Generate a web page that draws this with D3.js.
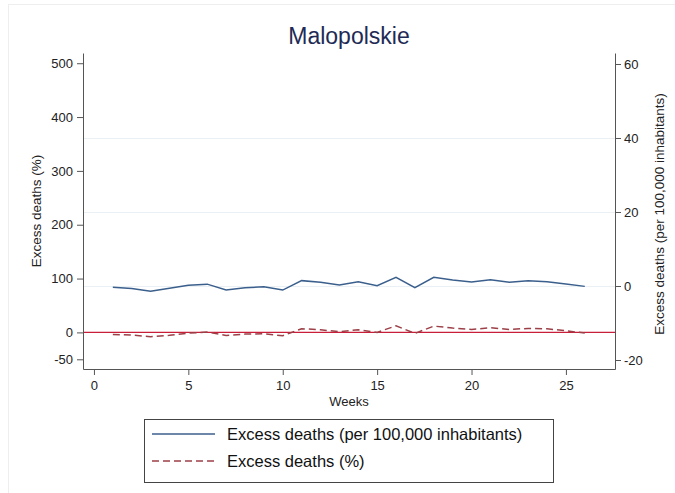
<!DOCTYPE html>
<html>
<head>
<meta charset="utf-8">
<script src="https://cdn.jsdelivr.net/npm/d3@7"></script>
<style>
  html, body { margin: 0; padding: 0; background: #fff; }
  svg { display: block; font-family: "Liberation Sans", Arial, Helvetica, sans-serif; }
</style>
</head>
<body>
<svg id="chart" width="675" height="493"></svg>
<script>
const title = "Malopolskie";
const weeks = [1,2,3,4,5,6,7,8,9,10,11,12,13,14,15,16,17,18,19,20,21,22,23,24,25,26];
const per100k = [-0.35,-0.7,-1.4,-0.6,0.2,0.5,-1.1,-0.45,-0.2,-1.1,1.45,1.0,0.25,1.15,0.1,2.35,-0.45,2.35,1.6,1.1,1.7,1.0,1.45,1.15,0.55,-0.1];
const pct = [-3.7,-5,-8,-5.5,-1.3,0.5,-5.6,-3.2,-2.5,-6.3,6.8,4.9,1.2,4.9,0,12.3,-1.9,11.7,8,5.5,8.6,5.5,7.4,6.8,3,-1.3];
const xTicks = [0,5,10,15,20,25];
const leftTicks = [-50,0,100,200,300,400,500];
const rightTicks = [-20,0,20,40,60];
const gridTicks = [0,20,40];
const seriesNames = ["Excess deaths (per 100,000 inhabitants)", "Excess deaths (%)"];
const xTitle = "Weeks";
const leftTitle = "Excess deaths (%)";
const rightTitle = "Excess deaths (per 100,000 inhabitants)";

const svg = d3.select("#chart");
const L = 83, R = 615, T = 53, B = 369;
const blue = "#3b5f8c", maroon = "#9c3f47", red = "#c81e3a", axisCol = "#555";
const fmt = d => String(d);

// faint outer frame
svg.append("line").attr("x1", 8.5).attr("x2", 8.5).attr("y1", 4).attr("y2", 493).attr("stroke", "#eeeeee");
svg.append("line").attr("x1", 8).attr("x2", 675).attr("y1", 4.5).attr("y2", 4.5).attr("stroke", "#eeeeee");

const x = d3.scaleLinear().domain([-0.58, 27.6]).range([L, R]);
const yL = d3.scaleLinear().domain([-68, 519]).range([B, T]);
const yR = d3.scaleLinear().domain([-22.43, 62.97]).range([B, T]);

// gridlines
svg.append("g").selectAll("line").data(gridTicks).join("line")
  .attr("x1", L).attr("x2", R)
  .attr("y1", d => Math.round(yR(d)) + 0.5).attr("y2", d => Math.round(yR(d)) + 0.5)
  .attr("stroke", "#eaf0f3").attr("stroke-width", 1);

// zero reference line
svg.append("line").attr("x1", L).attr("x2", R)
  .attr("y1", yL(0)).attr("y2", yL(0))
  .attr("stroke", red).attr("stroke-width", 1.3);

// lines
const lineR = d3.line().x((d, i) => x(weeks[i])).y(d => yR(d));
const lineL = d3.line().x((d, i) => x(weeks[i])).y(d => yL(d));
svg.append("path").datum(pct).attr("d", lineL).attr("fill", "none")
  .attr("stroke", maroon).attr("stroke-width", 1.5).attr("stroke-dasharray", "7,4");
svg.append("path").datum(per100k).attr("d", lineR).attr("fill", "none")
  .attr("stroke", blue).attr("stroke-width", 1.5);

// axes
function styleAxis(g) {
  g.selectAll("path").attr("stroke", axisCol);
  g.selectAll("line").attr("stroke", axisCol);
  g.selectAll("text").attr("fill", "#222").style("font-size", "13px")
    .style("font-family", '"Liberation Sans", Arial, Helvetica, sans-serif');
}
const gx = svg.append("g").attr("transform", `translate(0,${B})`)
  .call(d3.axisBottom(x).tickValues(xTicks).tickFormat(fmt).tickSize(6).tickPadding(6).tickSizeOuter(0));
styleAxis(gx);
const gl = svg.append("g").attr("transform", `translate(${L},0)`)
  .call(d3.axisLeft(yL).tickValues(leftTicks).tickFormat(fmt).tickSize(6).tickPadding(4).tickSizeOuter(0));
styleAxis(gl);
const gr = svg.append("g").attr("transform", `translate(${R},0)`)
  .call(d3.axisRight(yR).tickValues(rightTicks).tickFormat(fmt).tickSize(6).tickPadding(3).tickSizeOuter(0));
styleAxis(gr);

// titles
svg.append("text").attr("x", 349).attr("y", 44).attr("text-anchor", "middle")
  .attr("fill", "#1e2b55").style("font-size", "23px").text(title);
svg.append("text").attr("x", 349).attr("y", 406).attr("text-anchor", "middle")
  .attr("fill", "#222").style("font-size", "13px").text(xTitle);
svg.append("text").attr("transform", `translate(41,211) rotate(-90)`).attr("text-anchor", "middle")
  .attr("fill", "#222").style("font-size", "13.5px").text(leftTitle);
svg.append("text").attr("transform", `translate(664,214) rotate(-90)`).attr("text-anchor", "middle")
  .attr("fill", "#222").style("font-size", "13.5px").text(rightTitle);

// legend
const lg = svg.append("g");
lg.append("rect").attr("x", 144.5).attr("y", 419.5).attr("width", 409).attr("height", 63)
  .attr("fill", "#fff").attr("stroke", "#444").attr("stroke-width", 1);
const legendItems = [
  {name: seriesNames[0], color: blue, dash: null, y: 434},
  {name: seriesNames[1], color: maroon, dash: "7,4", y: 461}
];
legendItems.forEach(it => {
  lg.append("line").attr("x1", 152).attr("x2", 215).attr("y1", it.y).attr("y2", it.y)
    .attr("stroke", it.color).attr("stroke-width", 1.5).attr("stroke-dasharray", it.dash);
  lg.append("text").attr("x", 227).attr("y", it.y + 6).attr("fill", "#111")
    .style("font-size", "16.5px").text(it.name);
});
</script>
</body>
</html>
